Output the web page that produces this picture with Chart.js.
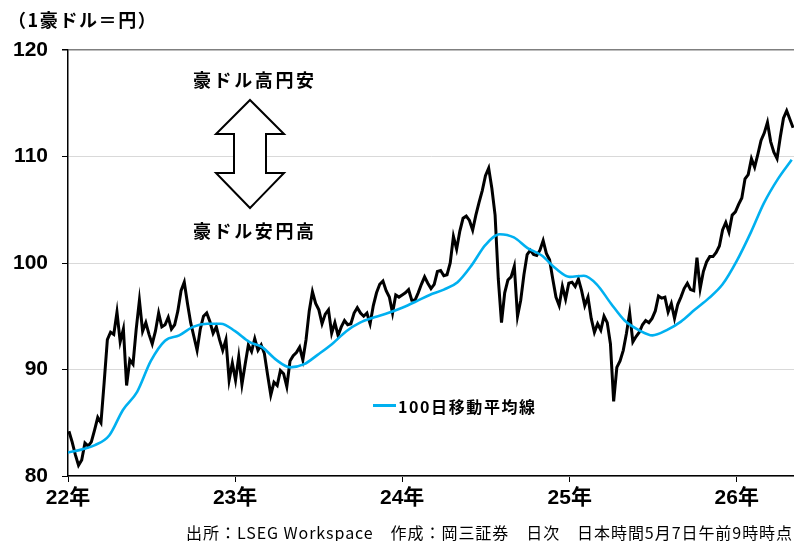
<!DOCTYPE html>
<html>
<head>
<meta charset="utf-8">
<script src="https://cdn.jsdelivr.net/npm/chart.js@4.4.0/dist/chart.umd.min.js"></script>
<style>
  body { margin: 0; background: #fff; }
  #wrap { position: relative; width: 794px; height: 541px; overflow: hidden; font-family: "Noto Sans CJK JP", "Liberation Sans", sans-serif; color: #000; }
  #chart { position: absolute; left: 0; top: 0; }
  .txt { position: absolute; white-space: nowrap; line-height: 1; transform: translateY(-50%); }
  .b { font-weight: bold; }
</style>
</head>
<body>
<div id="wrap">
  <canvas id="chart" width="794" height="541"></canvas>
  <div class="txt b" style="left:8px; top:19px; font-size:18px; letter-spacing:1.6px;">（1豪ドル＝円）</div>
  <div class="txt b" style="left:193px; top:79px; font-size:18px; letter-spacing:2.6px;">豪ドル高円安</div>
  <div class="txt b" style="left:193px; top:230px; font-size:18px; letter-spacing:2.6px;">豪ドル安円高</div>
  <svg style="position:absolute; left:0; top:0;" width="794" height="541">
    <polygon points="250,100 284,134 266,134 266,173 284,173 250,208 216,173 234,173 234,134 216,134"
             fill="#fff" stroke="#000" stroke-width="2" stroke-linejoin="miter"/>
  </svg>
  <div style="position:absolute; left:373px; top:404px; width:23px; height:3px; background:#00b0f0;"></div>
  <div class="txt b" style="left:398px; top:406px; font-size:16px; letter-spacing:1.6px;">100日移動平均線</div>
  <div class="txt" style="right:1px; top:532px; font-size:16px; letter-spacing:0.95px;">出所：LSEG Workspace　作成：岡三証券　日次　日本時間5月7日午前9時時点</div>
</div>
<script>
// 豪ドル/円 週次終値 (2022-01-03 から1週ごと)
const closeValues = [
  // 2022
  84.2, 83.2, 82.0, 81.0, 81.5, 83.1, 82.8, 83.2, 84.3, 85.5, 85.0, 88.8, 92.8,
  93.5, 93.3, 95.4, 92.6, 93.8, 88.5, 90.9, 90.5, 93.8, 96.5, 93.6, 94.4, 93.3,
  92.4, 93.6, 95.3, 94.0, 94.2, 94.9, 93.8, 94.2, 95.5, 97.4, 98.2, 96.2, 94.4,
  93.1, 91.8, 93.8, 95.0, 95.3, 94.5, 93.4, 94.0, 92.8, 91.8, 92.8, 89.0, 90.6,
  // 2023
  89.0, 91.2, 88.6, 90.5, 92.3, 91.7, 92.9, 91.8, 92.3, 91.5, 89.5, 87.6, 88.8,
  88.5, 89.9, 89.6, 88.4, 90.8, 91.3, 91.6, 92.1, 90.9, 92.8, 95.5, 97.3, 96.2,
  95.6, 94.3, 95.2, 95.6, 93.4, 94.4, 93.2, 94.0, 94.6, 94.2, 94.3, 95.3, 95.8,
  95.3, 95.0, 95.3, 94.3, 96.0, 97.2, 98.0, 98.3, 97.4, 96.8, 95.3, 97.0, 96.8,
  // 2024
  97.0, 97.2, 97.5, 96.5, 96.5, 97.2, 98.0, 98.7, 98.1, 97.6, 98.0, 99.2, 99.3,
  98.8, 98.9, 100.0, 102.5, 101.3, 103.0, 104.2, 104.4, 104.0, 103.1, 104.5, 105.7, 106.8,
  108.2, 108.9, 107.0, 104.5, 98.5, 94.4, 97.2, 98.4, 98.7, 99.7, 95.0, 96.5, 98.9,
  100.8, 101.2, 100.8, 100.7, 101.2, 102.1, 100.9, 100.3, 98.5, 96.8, 96.0, 97.8, 96.6,
  // 2025
  98.1, 98.2, 97.8, 98.5, 97.4, 96.0, 96.8, 94.8, 93.5, 94.3, 93.7, 95.0, 94.4,
  92.4, 87.0, 90.2, 90.8, 91.8, 93.4, 95.3, 92.6, 93.1, 93.5, 94.2, 94.6, 94.4,
  94.8, 95.5, 96.9, 96.7, 96.8, 95.4, 96.2, 94.8, 96.1, 96.8, 97.6, 98.1, 97.5,
  97.4, 100.5, 97.6, 99.2, 100.1, 100.6, 100.6, 101.0, 101.6, 103.1, 103.8, 102.9, 104.5,
  // 2026
  104.8, 105.5, 106.1, 107.9, 108.3, 109.8, 109.0, 110.2, 111.5, 112.2, 113.2, 111.4, 110.4,
  109.8, 111.8, 113.6, 114.3, 113.5, 112.7
];

// 100日移動平均 (2022年1月から各月初)
const maValues = [
  82.2, 82.5, 82.9, 83.8, 86.2, 87.9, 90.8, 92.7, 93.2, 94.0, 94.3, 94.3,
  93.6, 92.6, 92.1, 90.9, 90.2, 90.5, 91.4, 92.4, 93.6, 94.4, 94.9, 95.3,
  95.8, 96.4, 97.0, 97.5, 98.2, 99.8, 101.7, 102.7, 102.4, 101.4, 100.7, 99.5,
  98.7, 98.8, 98.0, 96.2, 94.6, 93.7, 93.2, 93.7, 94.5, 95.6, 96.7, 98.0,
  100.2, 102.9, 105.6, 107.9, 109.7
];

const yearLabels = ['22年', '23年', '24年', '25年', '26年'];
const yTicks = [80, 90, 100, 110, 120];

const DAY = 86400000;
const origin = Date.UTC(2022, 0, 1);
const dayOf = t => Math.round((t - origin) / DAY);
const firstWeek = dayOf(Date.UTC(2022, 0, 3));
const lastDay = dayOf(Date.UTC(2026, 4, 6));

const closePts = closeValues.map((v, i) => ({ x: firstWeek + 7 * i, y: v }));
const maPts = maValues.map((v, m) => ({ x: dayOf(Date.UTC(2022, m, 1)), y: v }));
const yearStarts = yearLabels.map((s, k) => dayOf(Date.UTC(2022 + k, 0, 1)));

const tickFont = { family: '"Liberation Sans", "Noto Sans CJK JP", Arial, sans-serif', size: 21, weight: 'bold' };

new Chart(document.getElementById('chart'), {
  type: 'line',
  data: {
    datasets: [
      {
        label: '100日移動平均線',
        data: maPts,
        borderColor: '#00b0f0',
        borderWidth: 2.6,
        pointRadius: 0,
        cubicInterpolationMode: 'monotone',
        order: 0
      },
      {
        label: '豪ドル/円',
        data: closePts,
        borderColor: '#000',
        borderWidth: 3,
        pointRadius: 0,
        tension: 0,
        order: 1
      }
    ]
  },
  options: {
    responsive: false,
    animation: false,
    devicePixelRatio: 1,
    layout: { padding: { top: 50, left: 0, right: 0, bottom: 0 } },
    plugins: { legend: { display: false }, tooltip: { enabled: false } },
    scales: {
      x: {
        type: 'linear',
        min: 0,
        max: lastDay,
        afterBuildTicks: s => { s.ticks = yearStarts.map(v => ({ value: v })); },
        afterFit: s => { s.height = 65; },
        grid: { drawOnChartArea: false, drawTicks: true, tickLength: 6, tickColor: '#000' },
        border: { color: '#000', width: 1.5 },
        ticks: {
          autoSkip: false,
          maxRotation: 0,
          padding: 4,
          color: '#000',
          font: tickFont,
          callback: v => yearLabels[yearStarts.indexOf(v)]
        }
      },
      y: {
        min: 80,
        max: 120,
        afterBuildTicks: s => { s.ticks = yTicks.map(v => ({ value: v })); },
        afterFit: s => { s.width = 68; },
        grid: {
          color: c => c.tick.value === 120 ? '#7f7f7f' : '#d9d9d9',
          lineWidth: c => c.tick.value === 120 ? 1.5 : 1,
          tickLength: 6,
          tickColor: '#000'
        },
        border: { color: '#000', width: 1.5 },
        ticks: { padding: 14, color: '#000', font: tickFont }
      }
    }
  }
});
</script>
</body>
</html>
